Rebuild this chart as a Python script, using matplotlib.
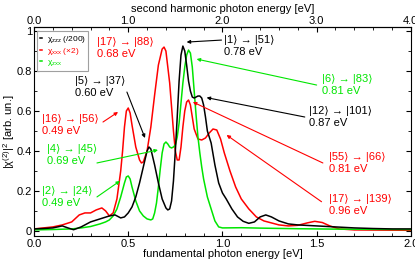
import matplotlib
matplotlib.use("Agg")
import matplotlib.pyplot as plt
from matplotlib.ticker import MultipleLocator, FormatStrFormatter, FuncFormatter

plt.rcParams['font.family'] = ['Liberation Sans', 'DejaVu Sans']
plt.rcParams['mathtext.fontset'] = 'custom'
plt.rcParams['mathtext.rm'] = 'Liberation Sans'
plt.rcParams['mathtext.it'] = 'Liberation Sans'
plt.rcParams['font.size'] = 8

# chi_zzz / 200 (black)
zzz_e = [0.0, 0.05, 0.1, 0.15, 0.18, 0.21, 0.25, 0.3, 0.35, 0.4, 0.43, 0.46, 0.48, 0.5, 0.52,
         0.54, 0.56, 0.58, 0.60, 0.61, 0.62, 0.64, 0.66, 0.68, 0.70, 0.71, 0.72, 0.73, 0.74,
         0.75, 0.76, 0.77, 0.78, 0.79, 0.80, 0.81, 0.82, 0.83, 0.84, 0.85, 0.86, 0.87, 0.88,
         0.89, 0.90, 0.91, 0.92, 0.94, 0.96, 0.98, 1.0, 1.02, 1.05, 1.08, 1.11, 1.14, 1.17,
         1.2, 1.23, 1.26, 1.3, 1.35, 1.4, 1.5, 1.6, 1.7, 1.8, 1.9, 2.0]
zzz_v = [0.01, 0.012, 0.015, 0.025, 0.015, 0.006, 0.02, 0.045, 0.06, 0.075, 0.08, 0.065, 0.07,
         0.09, 0.12, 0.17, 0.24, 0.32, 0.40, 0.42, 0.41, 0.33, 0.24, 0.16, 0.115, 0.105, 0.11,
         0.15, 0.25, 0.40, 0.57, 0.75, 0.88, 0.925, 0.90, 0.83, 0.75, 0.70, 0.67, 0.665, 0.67,
         0.675, 0.675, 0.665, 0.63, 0.57, 0.50, 0.44, 0.33, 0.24, 0.19, 0.16, 0.11, 0.07,
         0.048, 0.038, 0.045, 0.07, 0.08, 0.07, 0.05, 0.035, 0.03, 0.025, 0.02, 0.015, 0.012,
         0.01, 0.01]

# chi_xxx x 2 (red)
xxx_e = [0.0, 0.05, 0.1, 0.15, 0.2, 0.24, 0.27, 0.3, 0.33, 0.36, 0.38, 0.40, 0.42, 0.44, 0.46,
         0.47, 0.48, 0.49, 0.50, 0.51, 0.52, 0.54, 0.56, 0.57, 0.58, 0.60, 0.62, 0.64, 0.66,
         0.68, 0.69, 0.70, 0.72, 0.74, 0.75, 0.76, 0.77, 0.78, 0.79, 0.80, 0.81, 0.82, 0.83,
         0.84, 0.85, 0.87, 0.89, 0.91, 0.93, 0.95, 0.97, 0.99, 1.01, 1.04, 1.07, 1.10, 1.14,
         1.18, 1.22, 1.26, 1.3, 1.35, 1.4, 1.45, 1.49, 1.53, 1.57, 1.62, 1.7, 2.0]
xxx_v = [0.01, 0.015, 0.02, 0.03, 0.045, 0.08, 0.09, 0.09, 0.105, 0.115, 0.1, 0.075, 0.09,
         0.16, 0.30, 0.40, 0.52, 0.60, 0.615, 0.59, 0.53, 0.42, 0.355, 0.34, 0.345, 0.40, 0.52,
         0.68, 0.83, 0.91, 0.92, 0.90, 0.74, 0.50, 0.40, 0.355, 0.355, 0.42, 0.52, 0.60, 0.645,
         0.655, 0.63, 0.57, 0.51, 0.46, 0.455, 0.465, 0.49, 0.51, 0.505, 0.46, 0.39, 0.30, 0.22,
         0.16, 0.11, 0.07, 0.05, 0.04, 0.03, 0.025, 0.028, 0.04, 0.048, 0.042, 0.025, 0.01,
         0.005, 0.003]

# chi_zxx (green)
zxx_e = [0.0, 0.1, 0.2, 0.25, 0.3, 0.35, 0.38, 0.40, 0.42, 0.44, 0.46, 0.48, 0.49, 0.50, 0.51,
         0.52, 0.54, 0.56, 0.58, 0.60, 0.62, 0.63, 0.64, 0.65, 0.66, 0.67, 0.68, 0.69, 0.70,
         0.71, 0.72, 0.73, 0.74, 0.75, 0.76, 0.77, 0.78, 0.79, 0.80, 0.81, 0.82, 0.83, 0.84,
         0.85, 0.86, 0.87, 0.88, 0.89, 0.90, 0.92, 0.94, 0.96, 0.98, 1.0, 1.1, 1.2, 1.4, 1.6,
         1.8, 2.0]
zxx_v = [0.005, 0.007, 0.01, 0.015, 0.022, 0.035, 0.045, 0.055, 0.075, 0.11, 0.17, 0.24, 0.27,
         0.275, 0.26, 0.22, 0.15, 0.10, 0.075, 0.06, 0.055, 0.06, 0.09, 0.14, 0.22, 0.31, 0.39,
         0.435, 0.445, 0.435, 0.42, 0.415, 0.42, 0.43, 0.47, 0.54, 0.64, 0.74, 0.82, 0.88,
         0.905, 0.89, 0.82, 0.70, 0.58, 0.47, 0.39, 0.32, 0.26, 0.17, 0.11, 0.05, 0.02, 0.015,
         0.016, 0.014, 0.011, 0.009, 0.008, 0.007]

green = '#00e600'
red = '#ff0000'

# transition labels: text, colour, text position, arrow start, arrow end
labels = [
    ("|17⟩ → |88⟩\n0.68 eV", red, (0.335, 0.97), None, None),
    ("|1⟩ → |51⟩\n0.78 eV", 'black', (1.01, 0.98), (0.995, 0.955), (0.81, 0.945)),
    ("|6⟩ → |83⟩\n0.81 eV", green, (1.53, 0.785), (1.50, 0.73), (0.863, 0.86)),
    ("|12⟩ → |101⟩\n0.87 eV", 'black', (1.46, 0.625), (1.437, 0.57), (0.916, 0.667)),
    ("|5⟩ → |37⟩\n0.60 eV", 'black', (0.22, 0.775), (0.493, 0.695), (0.589, 0.465)),
    ("|16⟩ → |56⟩\n0.49 eV", red, (0.04, 0.585), (0.366, 0.545), (0.446, 0.595)),
    ("|4⟩ → |45⟩\n0.69 eV", green, (0.07, 0.435), (0.334, 0.34), (0.658, 0.405)),
    ("|2⟩ → |24⟩\n0.49 eV", green, (0.04, 0.225), (0.334, 0.17), (0.456, 0.25)),
    ("|55⟩ → |66⟩\n0.81 eV", red, (1.565, 0.395), (1.533, 0.34), (0.843, 0.645)),
    ("|17⟩ → |139⟩\n0.96 eV", red, (1.565, 0.185), (1.526, 0.146), (1.022, 0.48)),
]

fig = plt.figure(figsize=(4.15, 2.63), dpi=100)
ax = fig.add_axes([0.082, 0.103, 0.908, 0.794])

ax.plot(zzz_e, zzz_v, color='black', lw=1.1, label='χ$_{zzz}$ (/200)', zorder=3)
ax.plot(xxx_e, xxx_v, color=red, lw=1.1, label='χ$_{xxx}$ (×2)', zorder=2)
ax.plot(zxx_e, zxx_v, color=green, lw=1.1, label='χ$_{zxx}$', zorder=2)

for txt, col, pos, start, end in labels:
    ax.text(pos[0], pos[1], txt, color=col, fontsize=8, va='top', ha='left', linespacing=1.25)
    if end is not None:
        ax.annotate('', xy=end, xytext=start,
                    arrowprops=dict(arrowstyle='-|>', color=col, lw=0.8,
                                    mutation_scale=5, shrinkA=0, shrinkB=0))

ax.set_xlim(0, 2.0)
ax.set_ylim(-0.025, 1.02)
ax.xaxis.set_major_locator(MultipleLocator(0.5))
ax.xaxis.set_minor_locator(MultipleLocator(0.1))
ax.xaxis.set_major_formatter(FormatStrFormatter('%.1f'))
ax.yaxis.set_major_locator(MultipleLocator(0.2))
ax.yaxis.set_minor_locator(MultipleLocator(0.1))
ax.yaxis.set_major_formatter(FuncFormatter(lambda v, p: '%g' % round(v, 1)))
ax.tick_params(which='both', direction='in', right=True)
ax.tick_params(which='major', length=3.5)
ax.tick_params(which='minor', length=2)
ax.tick_params(axis='y', pad=1.5)
ax.tick_params(axis='x', pad=2)
ax.set_xlabel('fundamental photon energy [eV]', labelpad=0)
ax.set_ylabel('|χ$^{(2)}$|$^2$ [arb. un.]', labelpad=0)

top = ax.secondary_xaxis('top', functions=(lambda x: 2 * x, lambda x: x / 2))
top.xaxis.set_major_locator(MultipleLocator(1.0))
top.xaxis.set_minor_locator(MultipleLocator(0.2))
top.xaxis.set_major_formatter(FormatStrFormatter('%.1f'))
top.tick_params(which='both', direction='in')
top.tick_params(which='major', length=3.5, pad=1)
top.tick_params(which='minor', length=2)
top.set_xlabel('second harmonic photon energy [eV]', labelpad=3)

leg = ax.legend(loc='upper left', bbox_to_anchor=(0.008, 0.98), fontsize=6,
                handlelength=0.35, handletextpad=0.5, borderpad=0.3, labelspacing=0.15,
                fancybox=False, framealpha=1, edgecolor='#a0a0a0', borderaxespad=0)
leg.get_frame().set_linewidth(0.8)
for t, c in zip(leg.get_texts(), ['black', red, green]):
    t.set_color(c)

fig.savefig('out.png', dpi=100)
